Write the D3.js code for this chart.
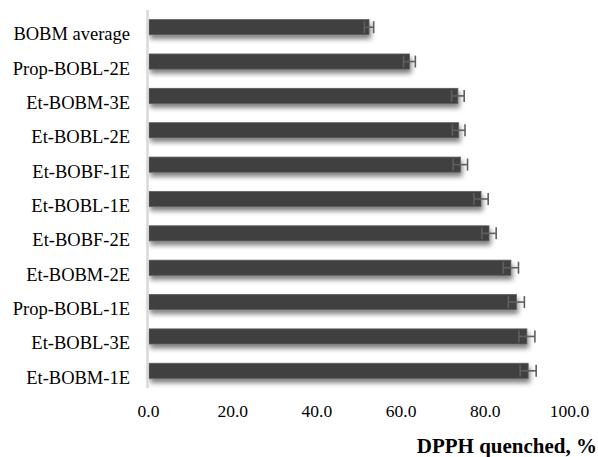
<!DOCTYPE html>
<html>
<head>
<meta charset="utf-8">
<script src="https://cdn.jsdelivr.net/npm/d3@7"></script>
<style>
  html, body { margin: 0; padding: 0; background: #ffffff; }
  svg { display: block; }
  text { font-family: "Liberation Serif", "Times New Roman", serif; }
</style>
</head>
<body>
<svg id="chart" width="598" height="457"></svg>
<script>
const categories = ["BOBM average", "Prop-BOBL-2E", "Et-BOBM-3E", "Et-BOBL-2E", "Et-BOBF-1E",
  "Et-BOBL-1E", "Et-BOBF-2E", "Et-BOBM-2E", "Prop-BOBL-1E", "Et-BOBL-3E", "Et-BOBM-1E"];
const values = [52.5, 62.1, 73.6, 73.8, 74.2, 79.1, 81.0, 86.2, 87.5, 90.0, 90.3];
const errors = [1.1, 1.4, 1.5, 1.5, 1.7, 1.7, 1.7, 1.8, 1.9, 1.9, 1.9];
const tickValues = [0, 20, 40, 60, 80, 100];
const axisTitle = "DPPH quenched, %";

const FONT = '"Liberation Serif", "Times New Roman", serif';
const svg = d3.select("#chart");

const defs = svg.append("defs");
const f = defs.append("filter").attr("id", "shadow")
  .attr("x", "-5%").attr("y", "-40%").attr("width", "115%").attr("height", "200%");
f.append("feDropShadow").attr("dx", 1.5).attr("dy", 4).attr("stdDeviation", 2.4)
  .attr("flood-color", "#000").attr("flood-opacity", 0.5);

const x = d3.scaleLinear().domain([0, 100]).range([148, 569]);
const y = d3.scaleBand().domain(categories).range([10, 388]).paddingInner(0.56).paddingOuter(0.28);

const data = categories.map((c, i) => ({ c, v: values[i], e: errors[i] }));

// bars
svg.append("g").selectAll("rect").data(data).join("rect")
  .attr("x", x(0) + 1)
  .attr("y", d => y(d.c))
  .attr("width", d => x(d.v) - x(0) - 1)
  .attr("height", y.bandwidth())
  .attr("fill", "#404040")
  .attr("stroke", "#5e5e5e")
  .attr("stroke-width", 0.8)
  .attr("filter", "url(#shadow)");

// error bars
const eg = svg.append("g").attr("stroke", "#5f5f5f").attr("stroke-width", 1.6).attr("fill", "none");
data.forEach(d => {
  const cy = y(d.c) + y.bandwidth() / 2;
  const x1 = x(d.v - d.e), x2 = x(d.v + d.e);
  eg.append("line").attr("x1", x1).attr("x2", x2).attr("y1", cy).attr("y2", cy);
  eg.append("line").attr("x1", x1).attr("x2", x1).attr("y1", cy - 6).attr("y2", cy + 6);
  eg.append("line").attr("x1", x2).attr("x2", x2).attr("y1", cy - 6).attr("y2", cy + 6);
});

// vertical axis line
svg.append("line").attr("x1", 147.5).attr("x2", 147.5).attr("y1", 10).attr("y2", 388)
  .attr("stroke", "#d9d9d9").attr("stroke-width", 2.5);

// category labels
svg.append("g").attr("font-family", FONT).selectAll("text").data(categories).join("text")
  .attr("x", 130)
  .attr("y", d => y(d) + y.bandwidth() / 2 + 13)
  .attr("text-anchor", "end")
  .attr("font-family", FONT)
  .style("font-size", "18.5px")
  .attr("fill", "#000")
  .text(d => d);

// x axis tick labels
const xAxis = d3.axisBottom(x).tickValues(tickValues).tickFormat(d3.format(".1f")).tickSize(0).tickPadding(0);
const ag = svg.append("g").attr("transform", "translate(0,403)").call(xAxis)
  .attr("font-family", FONT).attr("font-size", null);
ag.select(".domain").remove();
ag.selectAll("text")
  .attr("font-family", FONT)
  .style("font-size", "17.5px")
  .attr("fill", "#000")
  .attr("dy", 0)
  .attr("y", 14);

// axis title
svg.append("text")
  .attr("x", 597).attr("y", 453)
  .attr("text-anchor", "end")
  .attr("font-family", FONT)
  .style("font-weight", "bold")
  .style("font-size", "21px")
  .attr("fill", "#000")
  .text(axisTitle);
</script>
</body>
</html>
